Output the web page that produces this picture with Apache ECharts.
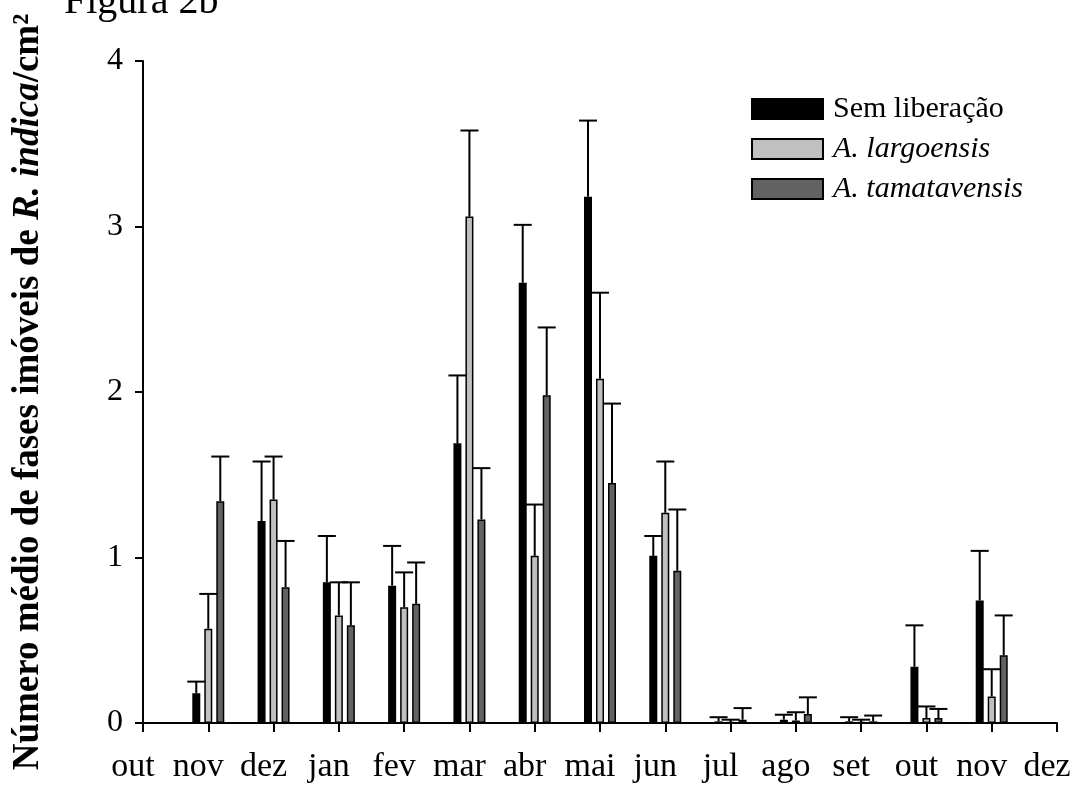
<!DOCTYPE html>
<html><head><meta charset="utf-8">
<script src="https://cdn.jsdelivr.net/npm/echarts@6/dist/echarts.min.js"></script>
<style>html,body{margin:0;padding:0;background:#fff}#c{width:1081px;height:791px}</style>
</head><body><div id="c"></div>
<script>
// Tick labels along the x axis (first and last ticks have no bars)
const monthLabels = ['out','nov','dez','jan','fev','mar','abr','mai','jun','jul','ago','set','out','nov','dez'];
const seriesNames = ['Sem liberação', 'A. largoensis', 'A. tamatavensis'];
// Mean values
const semLiberacao   = [null,0.18,1.22,0.85,0.83,1.69,2.66,3.18,1.01,0.01,0.02,0.01,0.34,0.74,null];
const largoensis     = [null,0.57,1.35,0.65,0.70,3.06,1.01,2.08,1.27,0.005,0.015,0.005,0.03,0.16,null];
const tamatavensis   = [null,1.34,0.82,0.59,0.72,1.23,1.98,1.45,0.92,0.02,0.055,0.01,0.03,0.41,null];
// Standard errors (upper error bars)
const semLiberacaoSE = [null,0.07,0.36,0.28,0.24,0.41,0.35,0.46,0.12,0.025,0.03,0.025,0.25,0.30,null];
const largoensisSE   = [null,0.21,0.26,0.20,0.21,0.52,0.31,0.52,0.31,0.015,0.05,0.015,0.07,0.165,null];
const tamatavensisSE = [null,0.27,0.28,0.26,0.25,0.31,0.41,0.48,0.37,0.07,0.10,0.035,0.055,0.24,null];
const yTicks = [0,1,2,3,4];

const FONT = '"Liberation Serif","Times New Roman",serif';
const colors = ['#000000', '#c0c0c0', '#636363'];
const BAR_W = 8, BAR_STEP = 12;

const chart = echarts.init(document.getElementById('c'), null, {renderer:'canvas'});

function barSeries(name, data, color) {
  return {
    name, type:'bar', data, barWidth: BAR_W, barGap:'50%',
    itemStyle:{color, borderColor:'#000', borderWidth:1.5},
    z: 2
  };
}
function errSeries(means, ses, offset) {
  const data = [];
  means.forEach((m,i) => { if (m != null) data.push([i, m, m + ses[i]]); });
  return {
    type:'custom', data, z: 3, silent:true,
    encode:{x:0, y:[1,2]},
    renderItem(params, api) {
      const p0 = api.coord([api.value(0), api.value(1)]);
      const p1 = api.coord([api.value(0), api.value(2)]);
      const cx = p0[0] + offset;
      return {type:'group', children:[
        {type:'line', shape:{x1:cx, y1:p0[1], x2:cx, y2:p1[1]}, style:{stroke:'#000', lineWidth:2}},
        {type:'line', shape:{x1:cx-9, y1:p1[1], x2:cx+9, y2:p1[1]}, style:{stroke:'#000', lineWidth:2}}
      ]};
    }
  };
}

const option = {
  animation:false,
  backgroundColor:'#fff',
  title:{text:'Figura 2b', left:64, top:-18, padding:0,
    textStyle:{fontFamily:FONT, fontSize:40, fontWeight:'normal', color:'#000'}},
  legend:{
    orient:'vertical', left:746, top:89, itemWidth:71, itemHeight:20, itemGap:10,
    icon:'rect', selectedMode:false,
    data: seriesNames,
    formatter: n => n === 'Sem liberação' ? '{r|' + n + '}' : '{i|' + n + '}',
    textStyle:{fontFamily:FONT, fontSize:30, color:'#000',
      rich:{
        r:{fontFamily:FONT, fontSize:30, color:'#000', padding:[0,0,0,5]},
        i:{fontFamily:FONT, fontSize:30, fontStyle:'italic', color:'#000', padding:[0,0,0,5]}
      }}
  },
  grid:{left:143, right:24, top:61, bottom:68},
  xAxis:{
    type:'category', data: monthLabels, boundaryGap:false,
    axisLine:{lineStyle:{color:'#000', width:2}},
    axisTick:{show:true, length:9, interval:0, lineStyle:{color:'#000', width:2}},
    axisLabel:{interval:0, margin:27, color:'#000', fontFamily:FONT, fontSize:34,
      formatter: v => '{m|' + v + '}',
      rich:{m:{fontFamily:FONT, fontSize:34, color:'#000', padding:[0,20,0,0]}}},
    splitLine:{show:false}
  },
  yAxis:{
    type:'value', min:0, max:4, interval:1,
    axisLine:{show:true, lineStyle:{color:'#000', width:2}},
    axisTick:{show:true, length:8, lineStyle:{color:'#000', width:2}},
    axisLabel:{margin:20, color:'#000', fontFamily:FONT, fontSize:32,
      formatter: v => yTicks.includes(v) ? String(v) : ''},
    splitLine:{show:false},
    name:'{b|Número médio de fases imóveis de }{bi|R. indica}{b|/cm²}',
    nameLocation:'middle', nameRotate:90, nameGap:96,
    nameTextStyle:{fontFamily:FONT, fontSize:37, fontWeight:'bold', color:'#000',
      rich:{
        b:{fontFamily:FONT, fontSize:37, fontWeight:'bold', color:'#000'},
        bi:{fontFamily:FONT, fontSize:37, fontWeight:'bold', fontStyle:'italic', color:'#000'}
      }}
  },
  series:[
    barSeries(seriesNames[0], semLiberacao, colors[0]),
    barSeries(seriesNames[1], largoensis, colors[1]),
    barSeries(seriesNames[2], tamatavensis, colors[2]),
    errSeries(semLiberacao, semLiberacaoSE, -BAR_STEP),
    errSeries(largoensis, largoensisSE, 0),
    errSeries(tamatavensis, tamatavensisSE, BAR_STEP)
  ]
};
chart.setOption(option);
</script>
</body></html>
